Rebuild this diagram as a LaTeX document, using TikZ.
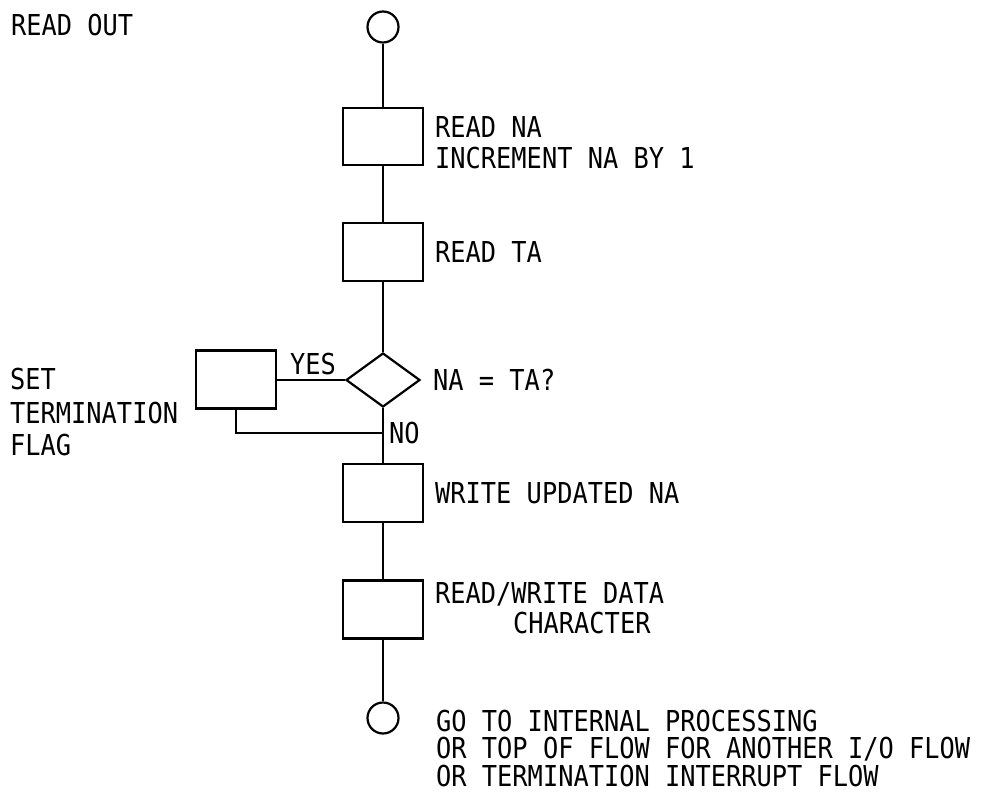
\documentclass[tikz,border=0pt]{standalone}
\usepackage{fontspec}
\usetikzlibrary{shapes.geometric}
\newfontfamily\tw[FakeStretch=0.88]{DejaVu Sans Mono}
\begin{document}
\begin{tikzpicture}[x=1pt,y=-1pt,
  ln/.style={line width=2.2pt},
  pbox/.style={draw,ln,rectangle,minimum width=80pt,minimum height=57pt,inner sep=0pt},
  term/.style={draw,ln,circle,minimum size=31pt,inner sep=0pt},
  dec/.style={draw,ln,diamond,minimum width=74pt,minimum height=54pt,inner sep=0pt},
  lbl/.style={anchor=base west,inner sep=0pt,font={\tw\fontsize{28.8}{30}\selectfont}}]
\useasboundingbox (0,0) rectangle (991,800);
% shapes
\node[term] (top) at (383,27) {};
\node[pbox] (b1) at (383,136.5) {};
\node[pbox,minimum height=58pt] (b2) at (383,252) {};
\node[dec] (d) at (383,380) {};
\node[pbox,minimum height=58pt] (set) at (236,379.5) {};
\node[pbox,minimum height=58pt] (w) at (383,493) {};
\node[pbox,minimum height=58pt] (rw) at (383,609.5) {};
\node[term] (bot) at (383,718) {};
\coordinate (j) at (383,433);
% connectors
\draw[ln] (top) -- (b1);
\draw[ln] (b1) -- (b2);
\draw[ln] (b2) -- (d.north);
\draw[ln] (d.south) -- (w);
\draw[ln] (w) -- (rw);
\draw[ln] (rw) -- (bot);
\draw[ln] (d.west) -- (d.west -| set.east);
\draw[ln] (set.south) |- (j);
% labels
\node[lbl] (t0) at (11,36) {READ OUT};
\node[lbl] (t1a) at (435,137) {READ NA};
\node[lbl] (t1b) at (435,168) {INCREMENT NA BY 1};
\node[lbl] (t2) at (435,262) {READ TA};
\node[lbl] (t3) at (433,390) {NA = TA?};
\node[lbl] (tyes) at (290,374) {YES};
\node[lbl] (tno) at (389,443) {NO};
\node[lbl] (s1) at (10,389) {SET};
\node[lbl] (s2) at (10,423) {TERMINATION};
\node[lbl] (s3) at (10,455) {FLAG};
\node[lbl] (t4) at (435,503) {WRITE UPDATED NA};
\node[lbl] (t5a) at (435,603) {READ/WRITE DATA};
\node[lbl] (t5b) at (513,633) {CHARACTER};
\node[lbl] (g1) at (436,731) {GO TO INTERNAL PROCESSING};
\node[lbl] (g2) at (436,758.5) {OR TOP OF FLOW FOR ANOTHER I/O FLOW};
\node[lbl] (g3) at (436,786) {OR TERMINATION INTERRUPT FLOW};
\end{tikzpicture}
\end{document}
